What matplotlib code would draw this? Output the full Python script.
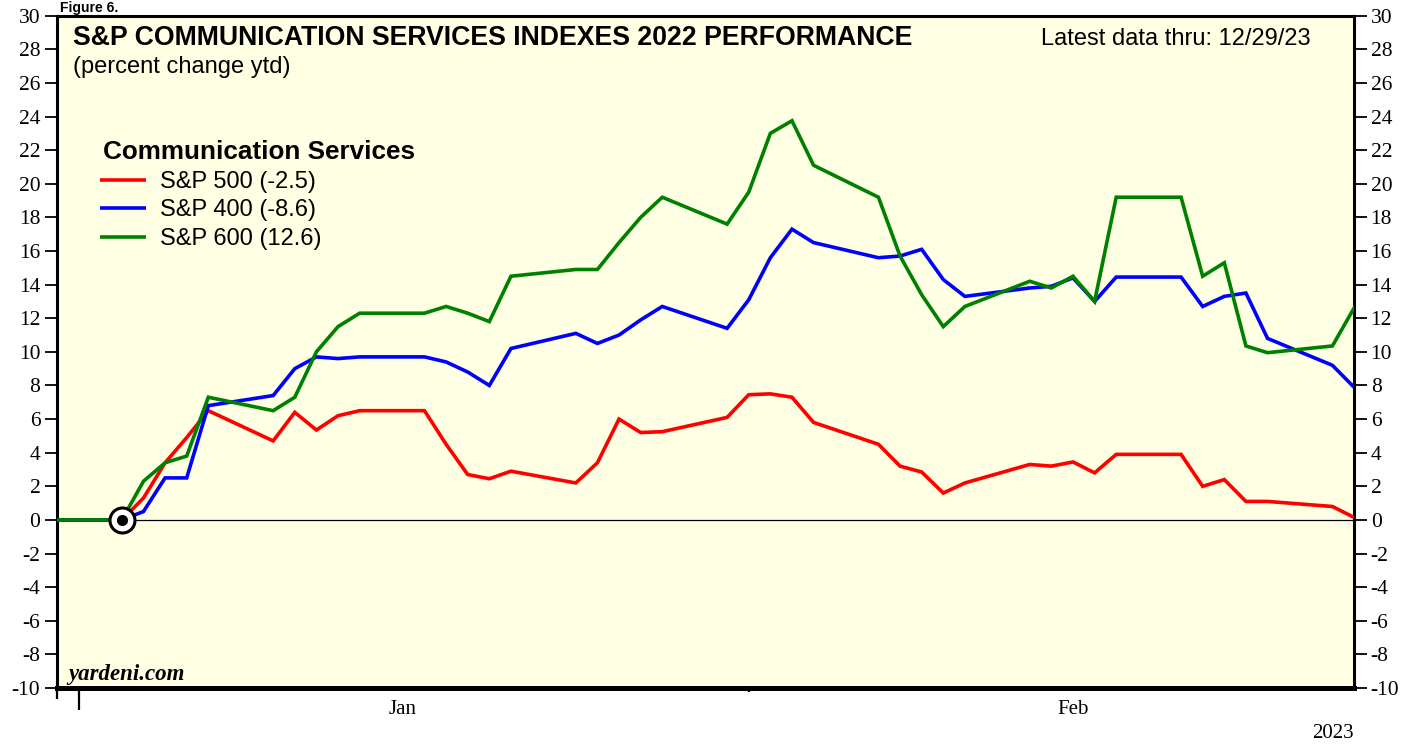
import matplotlib
matplotlib.use("Agg")
import matplotlib.pyplot as plt
import pandas as pd

# ---------------- data ----------------
dates = ["2022-12-30", "2023-01-02", "2023-01-03", "2023-01-04", "2023-01-05", "2023-01-06",
         "2023-01-09", "2023-01-10", "2023-01-11", "2023-01-12", "2023-01-13",
         "2023-01-16", "2023-01-17", "2023-01-18", "2023-01-19", "2023-01-20",
         "2023-01-23", "2023-01-24", "2023-01-25", "2023-01-26", "2023-01-27",
         "2023-01-30", "2023-01-31", "2023-02-01", "2023-02-02", "2023-02-03",
         "2023-02-06", "2023-02-07", "2023-02-08", "2023-02-09", "2023-02-10",
         "2023-02-13", "2023-02-14", "2023-02-15", "2023-02-16", "2023-02-17",
         "2023-02-20", "2023-02-21", "2023-02-22", "2023-02-23", "2023-02-24",
         "2023-02-27", "2023-02-28"]

sp500 = [0, 0, 1.3, 3.4, 4.9, 6.5, 4.7, 6.4, 5.35, 6.2, 6.5, 6.5, 4.5, 2.7, 2.45, 2.9,
         2.2, 3.4, 6.0, 5.2, 5.25, 6.1, 7.45, 7.5, 7.3, 5.8, 4.5, 3.2, 2.85, 1.6, 2.2,
         3.3, 3.2, 3.45, 2.8, 3.9, 3.9, 2.0, 2.4, 1.1, 1.1, 0.8, 0.15]
sp400 = [0, 0, 0.5, 2.5, 2.5, 6.8, 7.4, 9.0, 9.7, 9.6, 9.7, 9.7, 9.4, 8.8, 8.0, 10.2,
         11.1, 10.5, 11.0, 11.9, 12.7, 11.4, 13.1, 15.6, 17.3, 16.5, 15.6, 15.7, 16.1, 14.3, 13.3,
         13.8, 13.9, 14.4, 13.0, 14.45, 14.45, 12.7, 13.3, 13.5, 10.8, 9.2, 7.9]
sp600 = [0, 0, 2.3, 3.4, 3.8, 7.3, 6.5, 7.3, 10.0, 11.5, 12.3, 12.3, 12.7, 12.3, 11.8, 14.5,
         14.9, 14.9, 16.5, 18.0, 19.2, 17.6, 19.5, 23.0, 23.75, 21.1, 19.2, 15.7, 13.4, 11.5, 12.7,
         14.2, 13.8, 14.5, 13.0, 19.2, 19.2, 14.5, 15.3, 10.35, 9.95, 10.35, 12.6]

series_labels = ["S&P 500 (-2.5)", "S&P 400 (-8.6)", "S&P 600 (12.6)"]
series_colors = ["#FF0000", "#0000FF", "#008000"]
base_date = "2023-01-02"
month_labels = ["Jan", "Feb"]
month_label_dates = ["2023-01-15", "2023-02-15"]
yticks = list(range(-10, 31, 2))

# ---------------- helpers ----------------
origin = pd.Timestamp("2022-12-31")
def day(d):
    return (pd.Timestamp(d) - origin).days

x = [day(d) for d in dates]

plt.rcParams["font.family"] = ["Liberation Serif", "DejaVu Serif"]
SANS = ["Liberation Sans", "DejaVu Sans"]

W, H = 1419, 747
fig = plt.figure(figsize=(W / 100, H / 100), dpi=100)
L, R, T, B = 57, 1354, 15.7, 688
ax = fig.add_axes([L / W, 1 - B / H, (R - L) / W, (B - T) / H])
ax.set_facecolor("#FFFFE3")
ax.set_xlim(day("2022-12-30"), day("2023-02-28"))
ax.set_ylim(-10, 30)

def axx(px):
    return (px - L) / (R - L)

def axy(py):
    return (B - py) / (B - T)

ax.axhline(0, color="black", lw=0.9, zorder=1)

for vals, col in zip([sp500, sp400, sp600], series_colors):
    ax.plot(x, vals, color=col, lw=2.6, zorder=3, solid_joinstyle="miter")

bi = dates.index(base_date)
ax.plot([x[bi]], [sp500[bi]], marker="o", ms=18, mfc="white", mec="black", mew=2.2, zorder=5)
ax.plot([x[bi]], [sp500[bi]], marker="o", ms=7, mfc="black", mec="black", zorder=6)

# spines
for s in ["left", "right", "top"]:
    ax.spines[s].set_linewidth(2.2)
ax.spines["bottom"].set_linewidth(3.6)

# y ticks both sides
ax.set_yticks(yticks)
ax.set_yticklabels([str(v) for v in yticks])
ax.tick_params(axis="y", which="major", direction="out", length=9, width=1.3,
               labelsize=15.5, left=True, right=True, labelleft=True, labelright=True, pad=3)

# x ticks
ax.set_xticks([day("2022-12-31")])
ax.set_xticklabels([""])
ax.set_xticks([day("2023-01-31")], minor=True)
ax.tick_params(axis="x", which="major", direction="out", length=16, width=1.6)
ax.tick_params(axis="x", which="minor", direction="out", length=3, width=1.6)
sec = ax.secondary_xaxis("bottom")
sec.set_xticks([day("2022-12-30")])
sec.set_xticklabels([""])
sec.tick_params(length=8, width=1.6)
sec.spines["bottom"].set_visible(False)

for lab, d in zip(month_labels, month_label_dates):
    ax.text(day(d), axy(710), lab, transform=ax.get_xaxis_transform(),
            ha="center", va="center", fontsize=15)
ax.text(1.0, axy(733), "2023", transform=ax.transAxes, ha="right", va="center", fontsize=15)

# titles
ax.text(axx(73), axy(45), "S&P COMMUNICATION SERVICES INDEXES 2022 PERFORMANCE",
        transform=ax.transAxes, family=SANS, fontweight="bold", fontsize=19.2, va="baseline", ha="left")
ax.text(axx(73), axy(73), "(percent change ytd)", transform=ax.transAxes,
        family=SANS, fontsize=17, va="baseline", ha="left")
ax.text(axx(1311), axy(45), "Latest data thru: 12/29/23", transform=ax.transAxes,
        family=SANS, fontsize=17, va="baseline", ha="right")

# legend (manual)
ax.text(axx(103), axy(159), "Communication Services", transform=ax.transAxes,
        family=SANS, fontweight="bold", fontsize=18.8, va="baseline", ha="left")
for i, (lab, col) in enumerate(zip(series_labels, series_colors)):
    ly = [180, 208, 237][i]
    by = [188, 216, 245][i]
    ax.plot([axx(100), axx(146)], [axy(ly), axy(ly)], transform=ax.transAxes,
            color=col, lw=2.6, solid_capstyle="butt")
    ax.text(axx(160), axy(by), lab, transform=ax.transAxes, family=SANS,
            fontsize=17, va="baseline", ha="left")

ax.text(axx(68), axy(680), "yardeni.com", transform=ax.transAxes, fontsize=16.5,
        fontweight="bold", fontstyle="italic", va="baseline", ha="left")

fig.text(60 / W, 1 - 12 / H, "Figure 6.", family=SANS, fontweight="bold", fontsize=10,
         va="baseline", ha="left")

fig.savefig("out.png", dpi=100, facecolor="white")
